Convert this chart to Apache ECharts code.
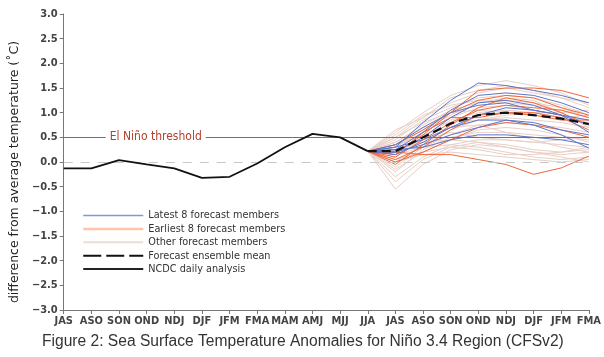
<!DOCTYPE html>
<html>
<head>
<meta charset="utf-8">
<script src="https://cdn.jsdelivr.net/npm/echarts@6/dist/echarts.min.js"></script>
<style>html,body{margin:0;padding:0;background:#fff}#c{width:604px;height:357px}</style>
</head>
<body>
<div id="c"></div>
<script>
var categories = ['JAS','ASO','SON','OND','NDJ','DJF','JFM','FMA','MAM','AMJ','MJJ','JJA','JAS','ASO','SON','OND','NDJ','DJF','JFM','FMA'];
var ncdcDaily = [-0.13,-0.13,0.04,-0.05,-0.13,-0.32,-0.30,-0.03,0.30,0.57,0.50,0.22];
var forecastStartIndex = 11;
var ensembleMean = [0.22,0.22,0.50,0.78,0.95,1.00,0.95,0.88,0.77];
var latest8 = [
  [0.22,0.30,0.80,1.25,1.60,1.55,1.45,1.35,1.20],
  [0.22,0.25,0.60,1.05,1.35,1.40,1.35,1.20,1.00],
  [0.22,0.20,0.50,0.90,1.20,1.25,1.15,0.95,0.75],
  [0.22,0.15,0.40,0.70,0.95,1.10,1.05,0.95,0.85],
  [0.22,0.20,0.35,0.55,0.70,0.85,0.80,0.65,0.55],
  [0.22,0.25,0.30,0.45,0.55,0.55,0.50,0.45,0.35],
  [0.22,0.30,0.45,0.70,0.85,0.85,0.75,0.55,0.28],
  [0.22,0.35,0.70,1.00,1.15,1.20,1.05,0.95,0.60]
];
var earliest8 = [
  [0.22,0.35,0.65,1.00,1.45,1.50,1.50,1.45,1.30],
  [0.22,0.20,0.55,1.00,1.25,1.35,1.30,1.10,0.95],
  [0.22,0.10,0.45,0.80,1.05,1.15,1.10,1.05,0.90],
  [0.22,0.05,0.30,0.65,0.95,1.00,0.95,0.85,0.85],
  [0.22,0.00,0.20,0.45,0.70,0.80,0.75,0.65,0.50],
  [0.22,0.20,0.15,0.15,0.05,-0.05,-0.25,-0.12,0.12],
  [0.22,-0.05,0.35,0.75,1.10,1.30,1.20,1.00,0.75],
  [0.22,0.15,0.60,0.90,0.90,1.00,1.00,0.90,0.65]
];
var otherMembers = [
  [0.22,0.60,1.00,1.35,1.55,1.65,1.55,1.40,1.15],
  [0.22,0.50,0.90,1.20,1.40,1.50,1.40,1.30,1.10],
  [0.22,0.45,0.85,1.10,1.30,1.35,1.30,1.15,0.95],
  [0.22,0.40,0.75,1.05,1.20,1.25,1.20,1.10,0.90],
  [0.22,0.30,0.60,0.90,1.10,1.15,1.05,0.95,0.85],
  [0.22,0.10,0.50,0.85,1.00,1.05,1.00,0.90,0.80],
  [0.22,0.00,0.35,0.65,0.85,0.90,0.85,0.80,0.70],
  [0.22,-0.10,0.30,0.55,0.75,0.80,0.75,0.70,0.60],
  [0.22,-0.20,0.25,0.50,0.60,0.60,0.55,0.50,0.45],
  [0.22,-0.30,0.10,0.35,0.45,0.45,0.40,0.35,0.30],
  [0.22,-0.40,0.05,0.30,0.40,0.35,0.25,0.20,0.25],
  [0.22,-0.55,-0.05,0.25,0.35,0.30,0.20,0.15,0.20],
  [0.22,0.35,0.55,0.70,0.75,0.60,0.45,0.30,0.20],
  [0.22,0.25,0.40,0.45,0.40,0.30,0.20,0.10,0.00],
  [0.22,0.15,0.30,0.35,0.30,0.20,0.10,0.05,0.10],
  [0.22,0.05,0.20,0.30,0.25,0.15,0.15,0.20,0.30],
  [0.22,0.20,0.45,0.60,0.50,0.45,0.40,0.45,0.50],
  [0.22,0.30,0.65,0.95,1.20,1.30,1.25,1.00,0.70],
  [0.22,0.50,0.80,1.00,1.05,1.00,0.95,0.90,0.95],
  [0.22,0.40,0.70,0.80,0.85,0.95,1.00,1.00,1.05],
  [0.22,-0.15,0.20,0.45,0.65,0.70,0.65,0.55,0.40],
  [0.22,0.00,0.15,0.20,0.15,0.10,0.05,0.00,0.05],
  [0.22,0.55,0.95,1.15,1.25,1.20,1.15,1.05,0.90],
  [0.22,0.65,0.90,1.30,1.45,1.55,1.45,1.30,1.20]
];
var yTicks = {min: -3, max: 3, interval: 0.5};
var thresholdValue = 0.5;
var thresholdLabel = 'El Niño threshold';
var legendNames = ['Latest 8 forecast members','Earliest 8 forecast members','Other forecast members','Forecast ensemble mean','NCDC daily analysis'];

function pad(arr) {
  var out = [];
  for (var i = 0; i < forecastStartIndex; i++) out.push(null);
  return out.concat(arr);
}
var FONT = 'DejaVu Sans Condensed';
var series = [];
otherMembers.forEach(function (d) {
  series.push({name: legendNames[2], type: 'line', data: pad(d), symbol: 'none', silent: true,
    itemStyle: {color: '#eedcd6'}, lineStyle: {color: '#e8cfc6', width: 1}, z: 2});
});
earliest8.forEach(function (d) {
  series.push({name: legendNames[1], type: 'line', data: pad(d), symbol: 'none', silent: true,
    itemStyle: {color: '#ffc4aa'}, lineStyle: {color: '#f0683c', width: 1}, z: 3});
});
latest8.forEach(function (d) {
  series.push({name: legendNames[0], type: 'line', data: pad(d), symbol: 'none', silent: true,
    itemStyle: {color: '#8d9cd8'}, lineStyle: {color: '#5f74c8', width: 1}, z: 4});
});
series.push({name: legendNames[3], type: 'line', data: pad(ensembleMean), symbol: 'none', silent: true,
  itemStyle: {color: '#111'}, lineStyle: {color: '#111', width: 2.2, type: [9, 5]}, z: 6});
series.push({name: legendNames[4], type: 'line', data: ncdcDaily, symbol: 'none', silent: true,
  itemStyle: {color: '#111'}, lineStyle: {color: '#111', width: 1.8}, z: 7,
  markLine: {
    silent: true, symbol: 'none', animation: false,
    lineStyle: {color: '#b25a48', width: 1, type: 'solid'},
    data: [
      {yAxis: thresholdValue, lineStyle: {color: '#b25a48', width: 1, type: 'solid'},
        label: {show: true, formatter: thresholdLabel, position: 'insideStart', distance: 42,
          color: '#b5402c', fontFamily: FONT, fontSize: 12, backgroundColor: '#fff', padding: [1, 4]}},
      {yAxis: 0, lineStyle: {color: '#c8c8c8', width: 1, type: [9, 8]}, label: {show: false}}
    ]
  }
});

var chart = echarts.init(document.getElementById('c'), null, {renderer: 'canvas'});
chart.setOption({
  animation: false,
  backgroundColor: '#fff',
  title: {text: 'Figure 2: Sea Surface Temperature Anomalies for Niño 3.4 Region (CFSv2)', left: 42, top: 334,
    padding: 0, textStyle: {fontFamily: 'Liberation Sans', fontSize: 15.6, fontWeight: 'normal', color: '#333'}},
  grid: {left: 63, right: 15, top: 14, bottom: 47},
  legend: {
    orient: 'vertical', left: 82, top: 210, padding: 0, itemGap: 2.4, itemWidth: 60, itemHeight: 11,
    selectedMode: false,
    textStyle: {fontFamily: FONT, fontSize: 10.8, color: '#333'},
    data: [
      {name: legendNames[0], itemStyle: {opacity: 0}, lineStyle: {color: '#8596d6', width: 1.5}},
      {name: legendNames[1], itemStyle: {opacity: 0}, lineStyle: {color: '#ffc4aa', width: 2.5}},
      {name: legendNames[2], itemStyle: {opacity: 0}, lineStyle: {color: '#eedcd6', width: 2}},
      {name: legendNames[3], itemStyle: {opacity: 0}, lineStyle: {color: '#111', width: 2, type: [18, 5]}},
      {name: legendNames[4], itemStyle: {opacity: 0}, lineStyle: {color: '#222', width: 2}}
    ]
  },
  xAxis: {
    type: 'category', data: categories, boundaryGap: false,
    axisLine: {onZero: false, lineStyle: {color: '#777'}},
    axisTick: {show: true, length: 4, alignWithLabel: true, lineStyle: {color: '#777'}},
    axisLabel: {interval: 0, color: '#444', fontFamily: FONT, fontSize: 11, fontWeight: 'bold', margin: 6},
    splitLine: {show: false}
  },
  yAxis: {
    type: 'value', min: yTicks.min, max: yTicks.max, interval: yTicks.interval,
    name: 'difference from average temperature (˚C)', nameLocation: 'middle', nameGap: 32,
    nameTextStyle: {fontFamily: 'DejaVu Sans', fontSize: 12.5, color: '#222', padding: [0, 20, 0, 0]},
    axisLine: {show: true, lineStyle: {color: '#777'}},
    axisTick: {show: true, length: 4, lineStyle: {color: '#777'}},
    axisLabel: {color: '#444', fontFamily: FONT, fontSize: 11, fontWeight: 'bold', margin: 6,
      formatter: function (v) { return v.toFixed(1).replace('-', '−'); }},
    splitLine: {show: false}
  },
  series: series
});
</script>
</body>
</html>
